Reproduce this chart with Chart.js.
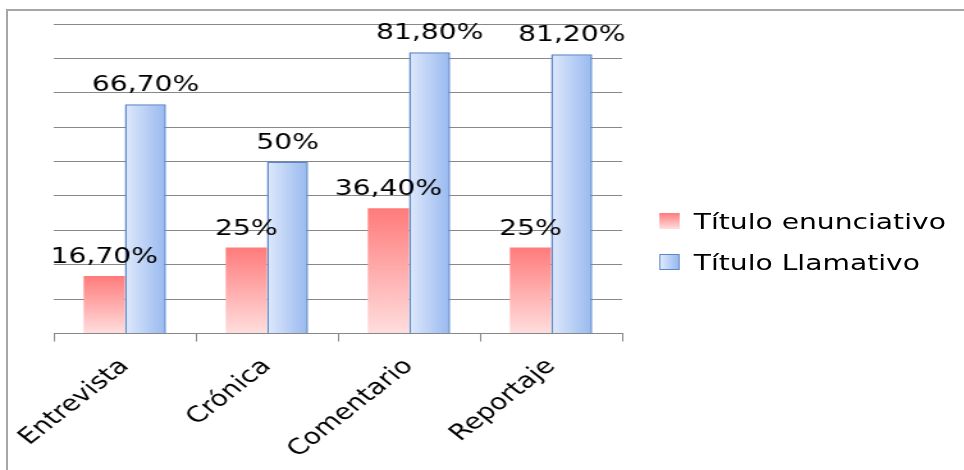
<!DOCTYPE html>
<html>
<head>
<meta charset="utf-8">
<script src="https://cdn.jsdelivr.net/npm/chart.js@4.4.1/dist/chart.umd.min.js"></script>
<style>
  html, body { margin: 0; padding: 0; background: #fff; overflow: hidden; }
  #wrap { position: relative; width: 964px; height: 470px; }
  #frame { position: absolute; left: 6px; top: 9px; width: 980px; height: 480px;
           border-top: 2px solid #a6a6a6; border-left: 2px solid #a6a6a6; }
  /* la imagen original está estirada en horizontal: se dibuja a 753px y se escala */
  #lienzo { position: absolute; left: 0; top: 0; width: 753px; height: 470px;
            transform: scaleX(1.28); transform-origin: 0 0; }
  canvas { position: absolute; left: 0; top: 0; }
  #leyenda { position: absolute; left: 515px; top: 0; font: 22px 'DejaVu Sans', Verdana, sans-serif;
             color: #000; white-space: nowrap; }
  .item { position: absolute; left: 0; height: 22px; display: flex; align-items: center; }
  .caja { width: 16px; height: 16px; margin-right: 11px; box-sizing: border-box; }
</style>
</head>
<body>
<div id="wrap">
  <div id="frame"></div>
  <div id="lienzo">
    <canvas id="chart" width="753" height="470"></canvas>
    <div id="leyenda"></div>
  </div>
</div>
<script>
// Datos
const categorias = ['Entrevista', 'Crónica', 'Comentario', 'Reportaje'];
const tituloEnunciativo = [16.7, 25, 36.4, 25];
const tituloLlamativo = [66.7, 50, 81.8, 81.2];
const ejeMax = 90;
const ejePaso = 10;

const fuente = "'DejaVu Sans', Verdana, sans-serif";
const catPct = 0.58;

function formatoPct(v) {
    return Number.isInteger(v) ? v + '%' : v.toFixed(2).replace('.', ',') + '%';
}

// Degradado vertical rojo por barra
function rellenoRojo(ctx) {
    const chart = ctx.chart;
    if (!chart.chartArea || ctx.type !== 'data') return '#ffa0a0';
    const y = chart.scales.y;
    const top = y.getPixelForValue(ctx.raw);
    const bottom = y.getPixelForValue(0);
    const g = chart.ctx.createLinearGradient(0, top, 0, bottom);
    g.addColorStop(0, '#ff7b7b');
    g.addColorStop(1, '#ffdede');
    return g;
}

// Degradado horizontal azul por barra
function rellenoAzul(ctx) {
    const chart = ctx.chart;
    if (!chart.chartArea || ctx.type !== 'data') return '#bcd2f6';
    const x = chart.scales.x;
    const centro = x.getPixelForValue(ctx.dataIndex);
    const ancho = x.width / categorias.length * catPct / 2;
    const g = chart.ctx.createLinearGradient(centro, 0, centro + ancho, 0);
    g.addColorStop(0, '#dfe9fb');
    g.addColorStop(1, '#98b9f0');
    return g;
}

// Etiquetas de datos sobre las barras
const etiquetasPlugin = {
    id: 'etiquetas',
    afterDatasetsDraw(chart) {
        const ctx = chart.ctx;
        ctx.save();
        ctx.font = '22px ' + fuente;
        ctx.fillStyle = '#000';
        ctx.textAlign = 'center';
        ctx.textBaseline = 'alphabetic';
        chart.data.datasets.forEach((ds, i) => {
            chart.getDatasetMeta(i).data.forEach((bar, j) => {
                ctx.fillText(formatoPct(ds.data[j]), bar.x, bar.y - 13);
            });
        });
        ctx.restore();
    }
};

const chart = new Chart(document.getElementById('chart'), {
    type: 'bar',
    data: {
        labels: categorias,
        datasets: [
            {
                label: 'Título enunciativo',
                data: tituloEnunciativo,
                backgroundColor: rellenoRojo,
                borderWidth: 0,
                categoryPercentage: catPct,
                barPercentage: 1
            },
            {
                label: 'Título Llamativo',
                data: tituloLlamativo,
                backgroundColor: rellenoAzul,
                borderColor: '#5a87c9',
                borderWidth: 1.5,
                categoryPercentage: catPct,
                barPercentage: 1
            }
        ]
    },
    options: {
        responsive: false,
        animation: false,
        layout: { padding: { left: 42, top: 24, right: 267, bottom: -5 } },
        plugins: {
            tooltip: { enabled: false },
            legend: { display: false }
        },
        scales: {
            x: {
                grid: {
                    drawOnChartArea: false,
                    color: '#888',
                    tickLength: 8
                },
                border: { color: '#888', width: 1 },
                ticks: {
                    font: { family: fuente, size: 22 },
                    color: '#000',
                    minRotation: 45,
                    maxRotation: 45,
                    padding: 12
                }
            },
            y: {
                min: 0,
                max: ejeMax,
                ticks: { display: false, stepSize: ejePaso },
                grid: { color: '#888', drawTicks: false },
                border: { display: false }
            }
        }
    },
    plugins: [etiquetasPlugin]
});

// Leyenda HTML a partir de los datasets
const fondosLeyenda = [
    { background: 'linear-gradient(to bottom, #ff7b7b, #ffdede)' },
    { background: 'linear-gradient(to right, #dfe9fb, #98b9f0)', border: '1px solid #5a87c9' }
];
const posLeyenda = [210, 251];
const leyenda = document.getElementById('leyenda');
chart.data.datasets.forEach((ds, i) => {
    const item = document.createElement('div');
    item.className = 'item';
    item.style.top = posLeyenda[i] + 'px';
    const caja = document.createElement('span');
    caja.className = 'caja';
    Object.assign(caja.style, fondosLeyenda[i]);
    const texto = document.createElement('span');
    texto.textContent = ds.label;
    item.appendChild(caja);
    item.appendChild(texto);
    leyenda.appendChild(item);
});
</script>
</body>
</html>
